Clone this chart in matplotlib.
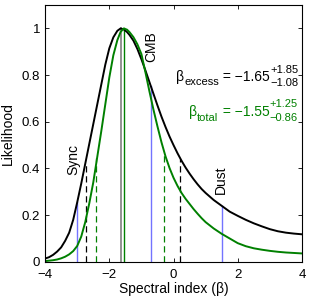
import numpy as np
import matplotlib
matplotlib.use("Agg")
import matplotlib.pyplot as plt

plt.rcParams['font.family'] = ['Liberation Sans', 'DejaVu Sans']

# likelihood curves
beta = [-4.0, -3.875, -3.75, -3.625, -3.5, -3.375, -3.25, -3.125, -3.0, -2.875,
        -2.75, -2.625, -2.5, -2.375, -2.25, -2.125, -2.0, -1.875, -1.75, -1.65,
        -1.55, -1.45, -1.375, -1.25, -1.125, -1.0, -0.875, -0.75, -0.625, -0.5,
        -0.375, -0.25, -0.125, 0.0, 0.125, 0.25, 0.375, 0.5, 0.625, 0.75, 0.875,
        1.0, 1.25, 1.5, 1.75, 2.0, 2.25, 2.5, 2.75, 3.0, 3.25, 3.5, 3.75, 4.0]
like_excess = [0.014, 0.020, 0.030, 0.044, 0.062, 0.090, 0.125, 0.180, 0.255, 0.335,
               0.420, 0.505, 0.590, 0.675, 0.760, 0.845, 0.915, 0.962, 0.990, 1.0,
               0.996, 0.985, 0.973, 0.948, 0.912, 0.868, 0.820, 0.770, 0.720, 0.670,
               0.622, 0.578, 0.537, 0.500, 0.465, 0.433, 0.404, 0.378, 0.354, 0.332, 0.312,
               0.295, 0.265, 0.240, 0.215, 0.197, 0.180, 0.165, 0.152, 0.140, 0.131, 0.125, 0.121, 0.118]
like_total = [0.003, 0.005, 0.007, 0.010, 0.015, 0.022, 0.032, 0.046, 0.068, 0.108,
              0.170, 0.250, 0.340, 0.450, 0.560, 0.675, 0.790, 0.885, 0.950, 0.985,
              1.0, 0.995, 0.985, 0.963, 0.932, 0.890, 0.812, 0.730, 0.652, 0.580,
              0.512, 0.452, 0.402, 0.360, 0.325, 0.295, 0.270, 0.248, 0.226, 0.206, 0.187,
              0.170, 0.143, 0.120, 0.100, 0.080, 0.067, 0.058, 0.052, 0.047, 0.043, 0.040, 0.038, 0.036]

# component reference indices (blue lines) and their heights
comp_names = ['Sync', 'CMB', 'Dust']
comp_beta = [-3.0, -0.7, 1.5]
comp_top = [0.255, 0.755, 0.24]
comp_label_pos = [(-3.12, 0.372), (-0.68, 0.855), (1.48, 0.29)]

# best fits and intervals
best_excess, up_excess, lo_excess = -1.65, 1.85, 1.08
best_total, up_total, lo_total = -1.55, 1.25, 0.86
int_excess_top = [0.428, 0.44]
int_total_top = [0.445, 0.47]

green = (0, 0.5, 0)
blue = (0.45, 0.45, 1.0)

fig = plt.figure(figsize=(3.11, 3.02), dpi=100)
ax = fig.add_axes([0.145, 0.133, 0.826, 0.85])

for b, t in zip(comp_beta, comp_top):
    ax.plot([b, b], [0, t], color=blue, lw=1)
ax.plot([best_excess, best_excess], [0, 1], color=(0.5, 0.5, 0.5), lw=1.2)
ax.plot([best_total, best_total], [0, 1], color=green, lw=1)
for b, t in zip([best_excess - lo_excess, best_excess + up_excess], int_excess_top):
    ax.plot([b, b], [0, t], color='k', lw=0.9, ls=(0, (5, 3)))
for b, t in zip([best_total - lo_total, best_total + up_total], int_total_top):
    ax.plot([b, b], [0, t], color=green, lw=0.9, ls=(0, (5, 3)))

ax.plot(beta, like_excess, color='k', lw=1.4)
ax.plot(beta, like_total, color=green, lw=1.4)

for name, (px, py) in zip(comp_names, comp_label_pos):
    ax.text(px, py, name, rotation=90, ha='center', va='bottom', fontsize=10)

ax.set_xlim(-4, 4)
ax.set_ylim(0, 1.1)
ax.set_xticks([-4, -2, 0, 2, 4])
ax.set_yticks([0, 0.2, 0.4, 0.6, 0.8, 1])
ax.set_yticklabels(['0', '0.2', '0.4', '0.6', '0.8', '1'])
ax.tick_params(direction='in', top=True, right=True, labelsize=9.5, length=3, width=0.6)
ax.tick_params(axis='x', pad=5)
ax.tick_params(axis='y', pad=3.5)
for s in ax.spines.values():
    s.set_linewidth(0.8)
ax.set_xlabel('Spectral index (β)', fontsize=10, labelpad=1)
ax.set_ylabel('Likelihood', fontsize=10, labelpad=5)


# fit results written piece by piece: beta, subscript, value, stacked errors
def fit_label(x0, y0, sub, value, up, lo, color, sub_dy, up_dy, lo_dy):
    r = fig.canvas.get_renderer()
    dx = 0.0
    for s, size, dy in [('β', 10, 0), (sub, 8, sub_dy), (' = ' + value, 10, 0)]:
        t = ax.annotate(s, xy=(x0, y0), xytext=(dx, dy), textcoords='offset points',
                        ha='left', va='baseline', fontsize=size, color=color)
        dx += t.get_window_extent(r).width * 72 / fig.dpi
    dx += 0.3
    ax.annotate(up, xy=(x0, y0), xytext=(dx, up_dy), textcoords='offset points',
                ha='left', va='baseline', fontsize=8, color=color)
    ax.annotate(lo, xy=(x0, y0), xytext=(dx, lo_dy), textcoords='offset points',
                ha='left', va='baseline', fontsize=8, color=color)


fit_label(0.08, 0.774, 'excess', '\u22121.65', '+1.85', '\u22121.08', 'k', -2.8, 6.1, -3.6)
fit_label(0.49, 0.624, 'total', '\u22121.55', '+1.25', '\u22120.86', green, -3.5, 6.3, -3.4)

fig.savefig('out.png', dpi=100)
